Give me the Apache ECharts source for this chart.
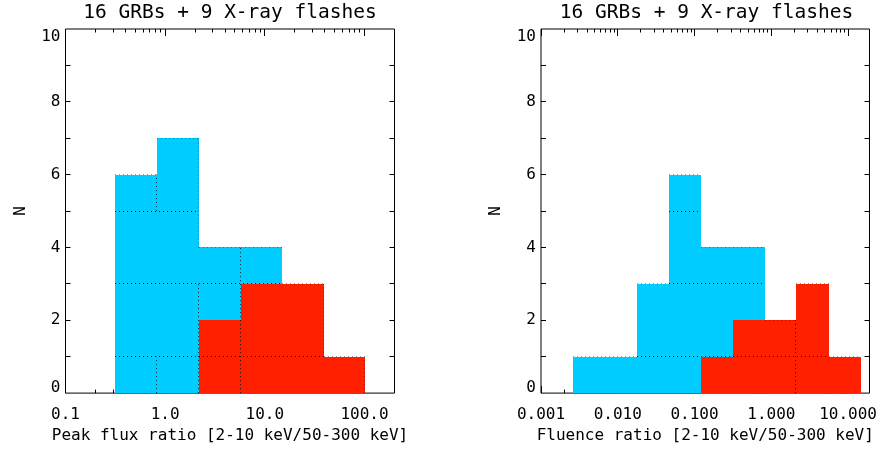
<!DOCTYPE html>
<html><head><meta charset="utf-8">
<script src="https://cdn.jsdelivr.net/npm/echarts@6/dist/echarts.min.js"></script>
<style>html,body{margin:0;padding:0;background:#fff}#c{width:880px;height:449px}</style>
</head><body><div id="c"></div>
<script>
// ---------------- data ----------------
const titleText = '16 GRBs + 9 X-ray flashes';
const yName = 'N';
const leftXName = 'Peak flux ratio [2-10 keV/50-300 keV]';
const rightXName = 'Fluence ratio [2-10 keV/50-300 keV]';

// bin edges (ratio values) and counts per bin
const leftEdges = [0.316, 0.83, 2.17, 5.7, 14.9, 38.9, 101.6];
const leftAll   = [6, 7, 4, 4, 3, 1];   // all 25 bursts
const leftXRF   = [0, 0, 2, 3, 3, 1];   // 9 X-ray flashes

const rightEdges = [0.00262, 0.00682, 0.0177, 0.0461, 0.1225, 0.321, 0.836, 2.11, 5.65, 14.7];
const rightAll   = [1, 1, 3, 6, 4, 4, 2, 3, 1];
const rightXRF   = [0, 0, 0, 0, 1, 2, 2, 3, 1];

const leftTickVals = [0.1, 1, 10, 100];
const leftTickLabels = ['0.1', '1.0', '10.0', '100.0'];
const rightTickVals = [0.001, 0.01, 0.1, 1, 10];
const rightTickLabels = ['0.001', '0.010', '0.100', '1.000', '10.000'];
const yTickVals = [0, 2, 4, 6, 8, 10];
const yTickLabels = ['0', '2', '4', '6', '8', '10'];

// dotted segments along bin edges: [edgeIndex, fromN, toN]
const leftEdgeDots = [[1, 0, 1], [1, 5, 6], [2, 0, 3], [3, 0, 4]];
const leftEdgeOutline = [[2, 4, 7], [5, 1, 3], [6, 0, 1]];
const rightEdgeDots = [[7, 0, 2]];
const rightEdgeOutline = [];

const leftRange = [0.1, 200];
const rightRange = [0.001, 19];
const yRange = [0, 10];

// ---------------- drawing ----------------
const FONT = 'DejaVu Sans Mono';
const CYAN = '#00CCFF';
const RED = '#FF2000';

function crisp(v) { return Math.floor(v) + 0.5; }

function histData(edges, counts) {
  return counts.map((n, i) => [edges[i], edges[i + 1], n]).filter(d => d[2] > 0);
}
function rectRender(color) {
  return function (params, api) {
    const a = api.coord([api.value(0), api.value(2)]);
    const b = api.coord([api.value(1), 0]);
    const x0 = Math.round(a[0]), x1 = Math.round(b[0]);
    const y0 = Math.round(a[1]), y1 = Math.round(b[1]);
    return { type: 'rect', shape: { x: x0, y: y0, width: x1 - x0, height: y1 - y0 }, style: { fill: color } };
  };
}
function dotsRender(edges, counts, edgeDots, edgeOutline) {
  return function (params, api) {
    const ch = [];
    const dark = { stroke: 'rgba(0,0,0,0.8)', lineWidth: 1, lineDash: [1, 3] };
    const light = { stroke: 'rgba(0,0,0,0.38)', lineWidth: 1, lineDash: [1, 3] };
    function hline(x0, x1, n, st) {
      const p = api.coord([x0, n]), q = api.coord([x1, n]);
      const y = crisp(p[1]);
      ch.push({ type: 'line', shape: { x1: Math.round(p[0]), y1: y, x2: Math.round(q[0]), y2: y }, style: st });
    }
    function vline(x, n0, n1, st) {
      const p = api.coord([x, n0]), q = api.coord([x, n1]);
      const xx = Math.round(p[0]) - 0.5;
      ch.push({ type: 'line', shape: { x1: xx, y1: p[1], x2: xx, y2: q[1] }, style: st });
    }
    const maxN = Math.max.apply(null, counts);
    for (let L = 1; L < maxN; L += 2) {
      let i = 0;
      while (i < counts.length) {
        if (counts[i] > L) {
          let j = i;
          while (j < counts.length && counts[j] > L) j++;
          hline(edges[i], edges[j], L, dark);
          i = j;
        } else i++;
      }
    }
    counts.forEach((n, i) => { if (n > 0) hline(edges[i], edges[i + 1], n, light); });
    edgeDots.forEach(s => vline(edges[s[0]], s[1], s[2], dark));
    edgeOutline.forEach(s => vline(edges[s[0]], s[1], s[2], light));
    return { type: 'group', children: ch };
  };
}
function ticksRender(xr, majors) {
  return function (params, api) {
    const ch = [];
    const st = { stroke: '#000', lineWidth: 1 };
    const tl = api.coord([xr[0], yRange[1]]);
    const br = api.coord([xr[1], yRange[0]]);
    const top = tl[1], bot = br[1], left = tl[0], right = br[0];
    function xt(v, len) {
      const x = crisp(api.coord([v, 0])[0]);
      ch.push({ type: 'line', shape: { x1: x, y1: top, x2: x, y2: top + len }, style: st });
      ch.push({ type: 'line', shape: { x1: x, y1: bot, x2: x, y2: bot - len }, style: st });
    }
    majors.forEach(v => xt(v, 7));
    const d0 = Math.floor(Math.log10(xr[0])), d1 = Math.ceil(Math.log10(xr[1]));
    for (let d = d0; d <= d1; d++) {
      for (let m = 2; m <= 9; m++) {
        const v = m * Math.pow(10, d);
        if (v > xr[0] && v < xr[1]) xt(v, 3.5);
      }
    }
    for (let n = yRange[0] + 1; n < yRange[1]; n++) {
      const y = crisp(api.coord([xr[0], n])[1]);
      ch.push({ type: 'line', shape: { x1: left, y1: y, x2: left + 5, y2: y }, style: st });
      ch.push({ type: 'line', shape: { x1: right, y1: y, x2: right - 5, y2: y }, style: st });
    }
    return { type: 'group', children: ch };
  };
}
function xLabelFmt(vals, labels) {
  return function (v) {
    for (let i = 0; i < vals.length; i++) {
      if (Math.abs(Math.log10(v) - Math.log10(vals[i])) < 1e-6) return labels[i];
    }
    return '';
  };
}
function makeX(idx, range, vals, labels, name) {
  return {
    gridIndex: idx, type: 'log', logBase: 10, min: range[0], max: range[1],
    axisLine: { show: false }, axisTick: { show: false }, splitLine: { show: false },
    axisLabel: { customValues: vals, formatter: xLabelFmt(vals, labels), showMaxLabel: true, showMinLabel: true,
      fontFamily: FONT, fontSize: 16, color: '#000', margin: 14 },
    name: name, nameLocation: 'middle', nameGap: 25,
    nameTextStyle: { fontFamily: FONT, fontSize: 16, color: '#000' }
  };
}
function makeY(idx) {
  return {
    gridIndex: idx, type: 'value', min: yRange[0], max: yRange[1], interval: 2,
    axisLine: { show: false }, axisTick: { show: false }, splitLine: { show: false },
    axisLabel: {
      formatter: v => {
        const k = yTickVals.indexOf(v);
        if (k < 0) return '';
        return v === yRange[0] ? '{lo|' + yTickLabels[k] + '}' : yTickLabels[k];
      },
      rich: { lo: { fontFamily: FONT, fontSize: 16, color: '#000', lineHeight: 11 } },
      verticalAlignMinLabel: 'bottom', verticalAlignMaxLabel: 'top',
      fontFamily: FONT, fontSize: 16, color: '#000', margin: 5 },
    name: yName, nameLocation: 'middle', nameRotate: 90, nameGap: 37,
    nameTextStyle: { fontFamily: FONT, fontSize: 16, color: '#000' }
  };
}
function panelSeries(idx, range, majors, edges, all, xrf, edgeDots, edgeOutline) {
  const base = { type: 'custom', xAxisIndex: idx, yAxisIndex: idx, silent: true };
  return [
    Object.assign({}, base, { z: 1, renderItem: ticksRender(range, majors), data: [[1, 1]], encode: { x: 0, y: 1 } }),
    Object.assign({}, base, { z: 2, renderItem: rectRender(CYAN), data: histData(edges, all), encode: { x: [0, 1], y: 2 } }),
    Object.assign({}, base, { z: 3, renderItem: rectRender(RED), data: histData(edges, xrf), encode: { x: [0, 1], y: 2 } }),
    Object.assign({}, base, { z: 4, renderItem: dotsRender(edges, all, edgeDots, edgeOutline), data: [[1, 1]], encode: { x: 0, y: 1 } })
  ];
}

const chart = echarts.init(document.getElementById('c'), null, { renderer: 'canvas' });
const gridBase = { show: true, borderColor: '#000', borderWidth: 1, backgroundColor: 'rgba(0,0,0,0)', containLabel: false };
chart.setOption({
  animation: false,
  backgroundColor: '#fff',
  textStyle: { fontFamily: FONT },
  title: [
    { text: titleText, left: 230, top: 3, padding: 0, textAlign: 'center',
      textStyle: { fontFamily: FONT, fontSize: 19.5, fontWeight: 'normal', color: '#000' } },
    { text: titleText, left: 706.5, top: 3, padding: 0, textAlign: 'center',
      textStyle: { fontFamily: FONT, fontSize: 19.5, fontWeight: 'normal', color: '#000' } }
  ],
  grid: [
    Object.assign({ left: 65.5, top: 29, width: 329, height: 365.5 }, gridBase),
    Object.assign({ left: 541, top: 29, width: 331, height: 365.5 }, gridBase)
  ],
  xAxis: [
    makeX(0, leftRange, leftTickVals, leftTickLabels, leftXName),
    makeX(1, rightRange, rightTickVals, rightTickLabels, rightXName)
  ],
  yAxis: [makeY(0), makeY(1)],
  series: [].concat(
    panelSeries(0, leftRange, leftTickVals, leftEdges, leftAll, leftXRF, leftEdgeDots, leftEdgeOutline),
    panelSeries(1, rightRange, rightTickVals, rightEdges, rightAll, rightXRF, rightEdgeDots, rightEdgeOutline)
  )
});
</script>
</body></html>
